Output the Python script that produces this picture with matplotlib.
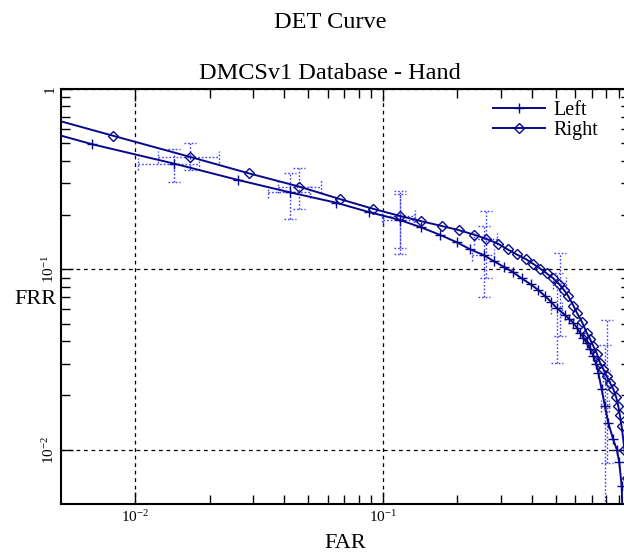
import matplotlib.pyplot as plt
from matplotlib.ticker import FixedLocator

plt.rcParams['font.family'] = ['Liberation Serif', 'DejaVu Serif']
plt.rcParams['mathtext.fontset'] = 'custom'
plt.rcParams['mathtext.rm'] = 'Liberation Serif'
plt.rcParams['mathtext.it'] = 'Liberation Serif:italic'

# DET points
far_left = [0.004, 0.00668, 0.0143, 0.026, 0.0423, 0.0649, 0.0877, 0.117, 0.143,
            0.171, 0.2, 0.226, 0.256, 0.281, 0.308, 0.336, 0.365, 0.397, 0.426,
            0.454, 0.48, 0.505, 0.546, 0.568, 0.59, 0.61, 0.628, 0.648, 0.668,
            0.69, 0.711, 0.728, 0.745, 0.768, 0.792, 0.817, 0.855, 0.885, 0.905,
            0.925, 0.935]
frr_left = [0.60, 0.494, 0.386, 0.313, 0.267, 0.234, 0.208, 0.188, 0.171,
            0.155, 0.141, 0.129, 0.12, 0.111, 0.1035, 0.0967, 0.089, 0.0826, 0.0767,
            0.071, 0.066, 0.061, 0.056, 0.053, 0.0506, 0.0475, 0.0445, 0.0418, 0.039,
            0.036, 0.033, 0.030, 0.0267, 0.0216, 0.0174, 0.0141, 0.0114, 0.0100, 0.0085,
            0.0063, 0.004]

far_right = [0.004, 0.0081, 0.01656, 0.0289, 0.0458, 0.0673, 0.091, 0.117, 0.143,
             0.173, 0.203, 0.233, 0.261, 0.292, 0.32, 0.348, 0.379, 0.407, 0.433,
             0.46, 0.49, 0.518, 0.541, 0.563, 0.59, 0.61, 0.64, 0.668, 0.69, 0.711,
             0.735, 0.757, 0.78, 0.805, 0.83, 0.857, 0.88, 0.897, 0.91, 0.925, 0.95,
             0.97]
frr_right = [0.72, 0.551, 0.421, 0.34, 0.288, 0.245, 0.217, 0.198, 0.185,
             0.174, 0.165, 0.156, 0.148, 0.139, 0.129, 0.121, 0.114, 0.107, 0.101,
             0.095, 0.089, 0.0826, 0.0767, 0.071, 0.063, 0.0574, 0.051, 0.0445, 0.041, 0.0375,
             0.034, 0.0303, 0.028, 0.0255, 0.0235, 0.0216, 0.0195, 0.0174, 0.0155, 0.0135, 0.0100,
             0.007]

# confidence boxes (centre, low, high)
ci_left_far = [0.0143, 0.0423, 0.117, 0.256, 0.505, 0.792]
ci_left_frr = [0.386, 0.267, 0.188, 0.12, 0.061, 0.0174]
ci_left_far_lo = [0.0102, 0.0344, 0.100, 0.229, 0.48, 0.765]
ci_left_far_hi = [0.018, 0.0509, 0.134, 0.281, 0.53, 0.82]
ci_left_frr_lo = [0.305, 0.19, 0.121, 0.0705, 0.0303, 0.0045]
ci_left_frr_hi = [0.464, 0.344, 0.261, 0.174, 0.095, 0.0383]

ci_right_far = [0.01656, 0.0458, 0.117, 0.261, 0.52, 0.805]
ci_right_frr = [0.421, 0.288, 0.198, 0.148, 0.0843, 0.0255]
ci_right_far_lo = [0.0123, 0.0378, 0.0993, 0.233, 0.49, 0.78]
ci_right_far_hi = [0.0217, 0.0562, 0.135, 0.289, 0.55, 0.83]
ci_right_frr_lo = [0.355, 0.216, 0.132, 0.0899, 0.0425, 0.00844]
ci_right_frr_hi = [0.499, 0.367, 0.271, 0.211, 0.1228, 0.0527]

major_ticks = [0.01, 0.1, 1]
minor_ticks = [m * d for d in (0.01, 0.1) for m in range(2, 10)]

line_col = '#08088a'
ci_col = '#4040ff'
dots = (0, (1.2, 1.4))

fig = plt.figure(figsize=(6.24, 5.52), dpi=100)
ax = fig.add_axes([61 / 624, 48 / 552, 569 / 624, 415 / 552])
ax.set_xscale('log')
ax.set_yscale('log')
ax.set_xlim(0.005, 1)
ax.set_ylim(0.005, 1)


def draw_ci(xc, yc, xlo, xhi, ylo, yhi):
    cx = 10 ** (6 / 247.5)   # half cap width, multiplicative in log x
    cy = 10 ** (6 / 180.0)
    kw = dict(colors=ci_col, linestyles=dots, linewidth=1, zorder=2)
    ax.hlines(yc, xlo, xhi, **kw)
    ax.vlines(xc, ylo, yhi, **kw)
    ax.vlines(xlo, [y / cy for y in yc], [y * cy for y in yc], **kw)
    ax.vlines(xhi, [y / cy for y in yc], [y * cy for y in yc], **kw)
    ax.hlines(ylo, [x / cx for x in xc], [x * cx for x in xc], **kw)
    ax.hlines(yhi, [x / cx for x in xc], [x * cx for x in xc], **kw)


draw_ci(ci_left_far, ci_left_frr, ci_left_far_lo, ci_left_far_hi, ci_left_frr_lo, ci_left_frr_hi)
draw_ci(ci_right_far, ci_right_frr, ci_right_far_lo, ci_right_far_hi, ci_right_frr_lo, ci_right_frr_hi)

ax.plot(far_left, frr_left, color=line_col, lw=1.4, marker='+', ms=7.5, mew=1.0,
        label='Left', zorder=3)
ax.plot(far_right, frr_right, color=line_col, lw=1.4, marker='D', ms=5.5, mew=1.0,
        mfc='none', label='Right', zorder=3)

# grid at decades
ax.grid(True, which='major', color='black', linestyle=(0, (3, 3)), linewidth=0.9)

ax.xaxis.set_major_locator(FixedLocator(major_ticks))
ax.yaxis.set_major_locator(FixedLocator(major_ticks))
ax.xaxis.set_minor_locator(FixedLocator(minor_ticks))
ax.yaxis.set_minor_locator(FixedLocator(minor_ticks))
ax.set_xticklabels([r'$\mathregular{10^{-2}}$', r'$\mathregular{10^{-1}}$', ''])
ax.set_yticklabels([r'$\mathregular{10^{-2}}$', r'$\mathregular{10^{-1}}$', '1'])
ax.xaxis.set_minor_formatter(plt.NullFormatter())
ax.yaxis.set_minor_formatter(plt.NullFormatter())
for lab in ax.get_yticklabels():
    lab.set_rotation(90)
    lab.set_va('center')
ax.tick_params(which='both', direction='in', top=True, right=True, labelsize=11, width=1.0)
ax.tick_params(which='major', length=8.8, pad=4)
ax.tick_params(which='minor', length=6.6)
ax.tick_params(axis='y', which='major', pad=3)
for sp in ax.spines.values():
    sp.set_linewidth(1.5)

ax.set_xlabel('FAR', fontsize=16)
ax.xaxis.set_label_coords((345 - 61) / 569, (504 - 548) / 415)
ax.xaxis.label.set_va('baseline')
ax.set_ylabel('FRR', fontsize=16, rotation=0)
ax.yaxis.set_label_coords((35 - 61) / 569, (504 - 300) / 415)
ax.yaxis.label.set_ha('center')
ax.yaxis.label.set_va('center')

fig.text(330 / 624, 1 - 28 / 552, 'DET Curve', ha='center', va='baseline', fontsize=17.5)
fig.text(330 / 624, 1 - 79 / 552, 'DMCSv1 Database - Hand', ha='center', va='baseline', fontsize=17.5)

ax.legend(loc='upper left', bbox_to_anchor=(493 / 624, 1 - 101 / 552),
          bbox_transform=fig.transFigure, frameon=False, fontsize=14.5,
          handlelength=2.6, handletextpad=0.4, labelspacing=0.05, borderpad=0,
          borderaxespad=0)

fig.savefig('out.png', dpi=100)
